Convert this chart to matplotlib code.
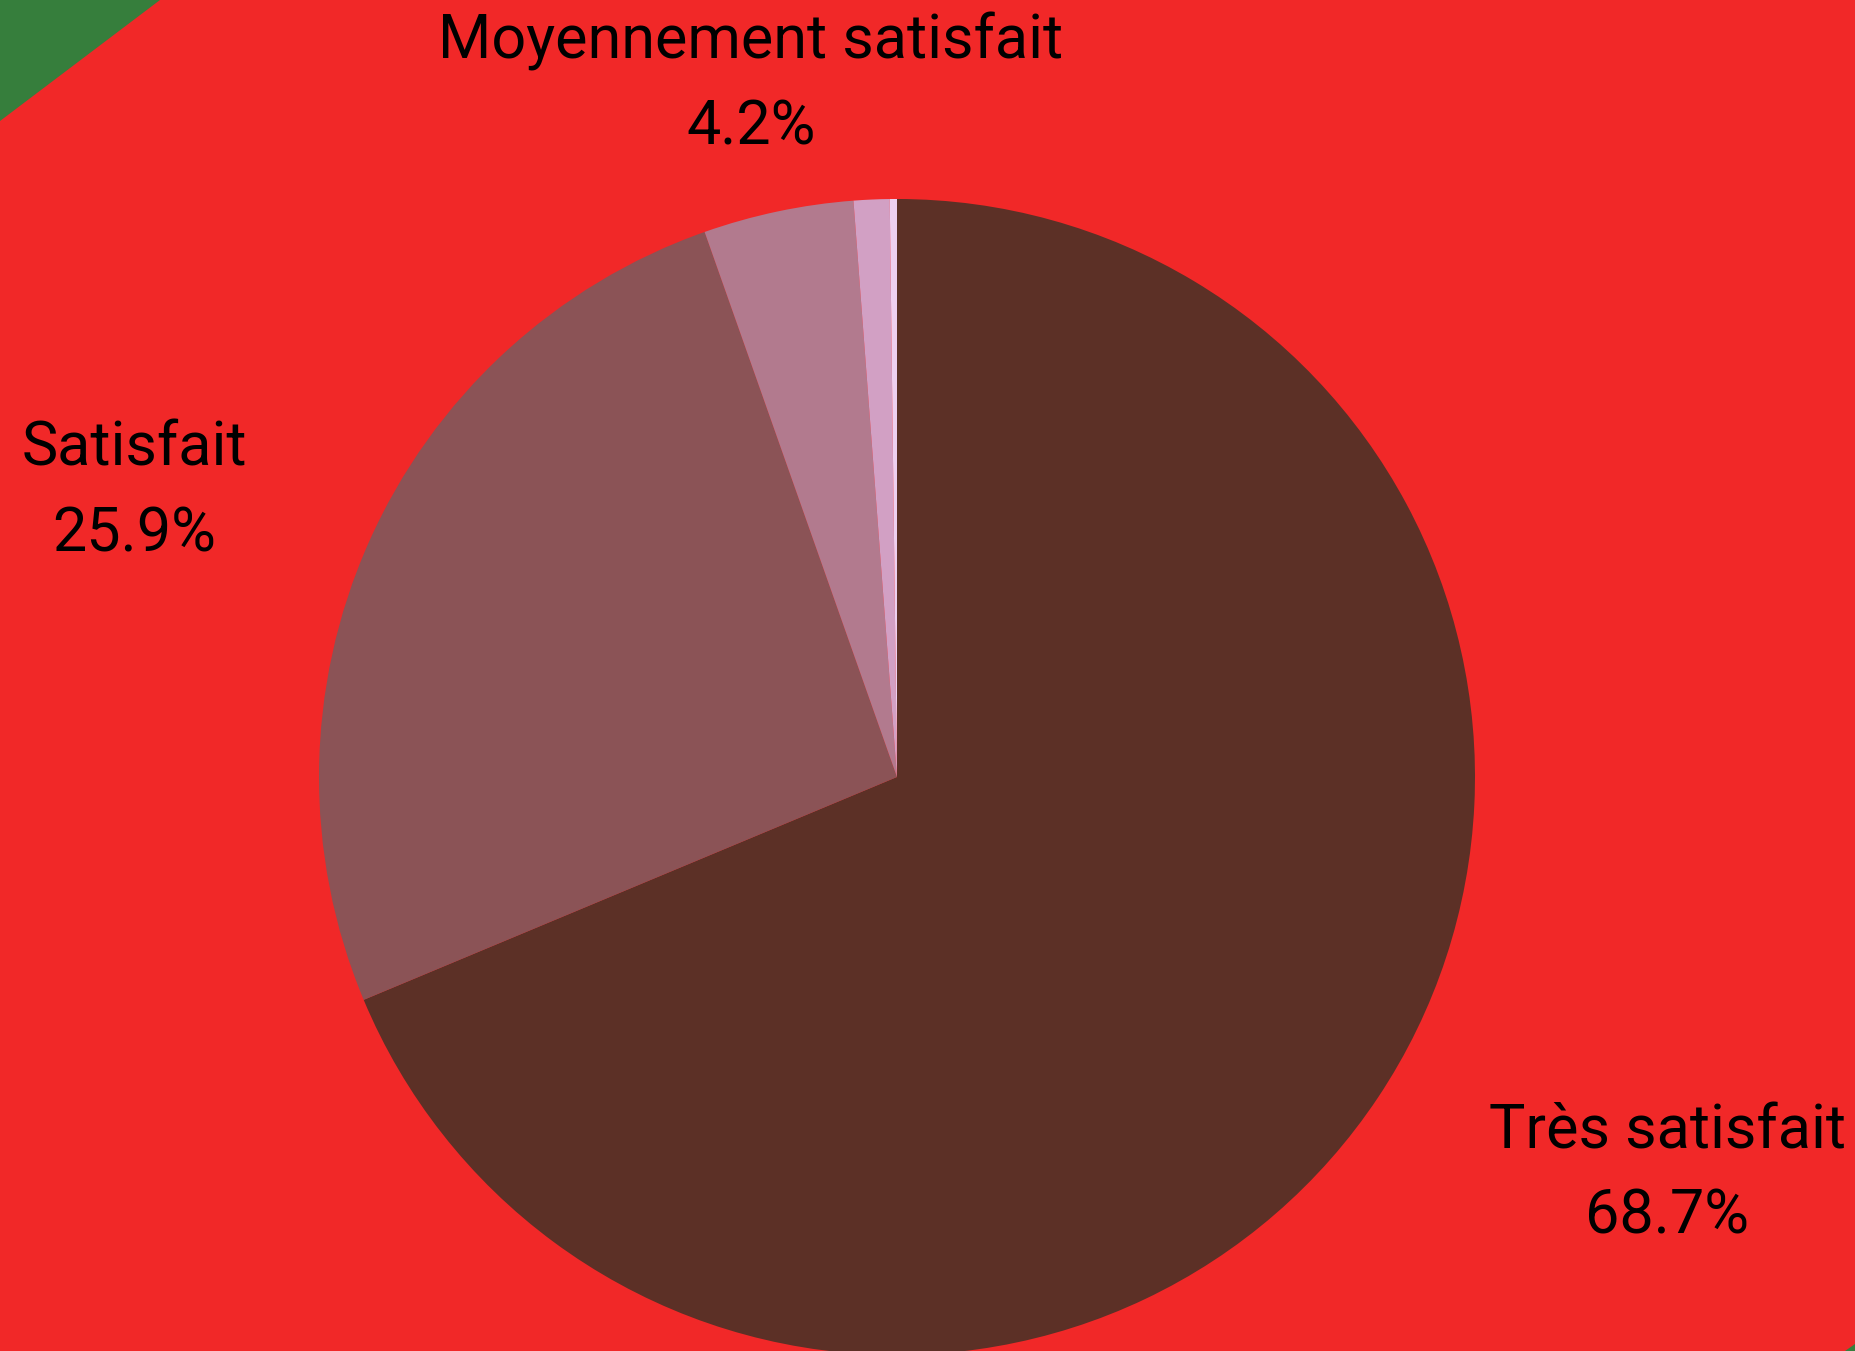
import numpy as np
import matplotlib
matplotlib.use("Agg")
import matplotlib.pyplot as plt
from matplotlib.patches import Polygon

categories = ["Très satisfait", "Satisfait", "Moyennement satisfait", "Peu satisfait", "Pas satisfait"]
values = [68.7, 25.9, 4.2, 1.0, 0.2]
colors = ["#5C3026", "#8B5356", "#B27A8E", "#D2A0C4", "#EED0F0"]
show_label = [True, True, True, False, False]

W, H = 1855, 1351
fig = plt.figure(figsize=(W / 100, H / 100), dpi=100)
fig.patch.set_facecolor("#F12828")
ax = fig.add_axes([0, 0, 1, 1])
ax.set_xlim(0, W)
ax.set_ylim(0, H)
ax.set_aspect("equal")
ax.axis("off")

# decorative green corners
ax.add_patch(Polygon([(0, H), (160, H), (0, H - 121)], closed=True, color="#367E3C", lw=0))
ax.add_patch(Polygon([(W, 0), (W - 10, 0), (W, 7)], closed=True, color="#367E3C", lw=0))

cx, cy, R = 897, H - 777, 578
wedges, _ = ax.pie(values, colors=colors, startangle=90, counterclock=False,
                   center=(cx, cy), radius=R, frame=True,
                   wedgeprops=dict(linewidth=0))
ax.set_xlim(0, W)
ax.set_ylim(0, H)
ax.axis("off")

for w, cat, v, show in zip(wedges, categories, values, show_label):
    if not show:
        continue
    ang = np.deg2rad((w.theta1 + w.theta2) / 2)
    x = cx + 1.23 * R * np.cos(ang)
    y = cy + 1.23 * R * np.sin(ang)
    c = np.cos(ang)
    ha = "center" if abs(c) < 0.3 else ("left" if c > 0 else "right")
    ax.text(x, y - 3, f"{cat}\n{v:.1f}%", ha=ha, va="center", multialignment="center",
            fontsize=44, family="Roboto", color="black", linespacing=1.6)

fig.savefig("out.png", dpi=100, facecolor=fig.get_facecolor())
